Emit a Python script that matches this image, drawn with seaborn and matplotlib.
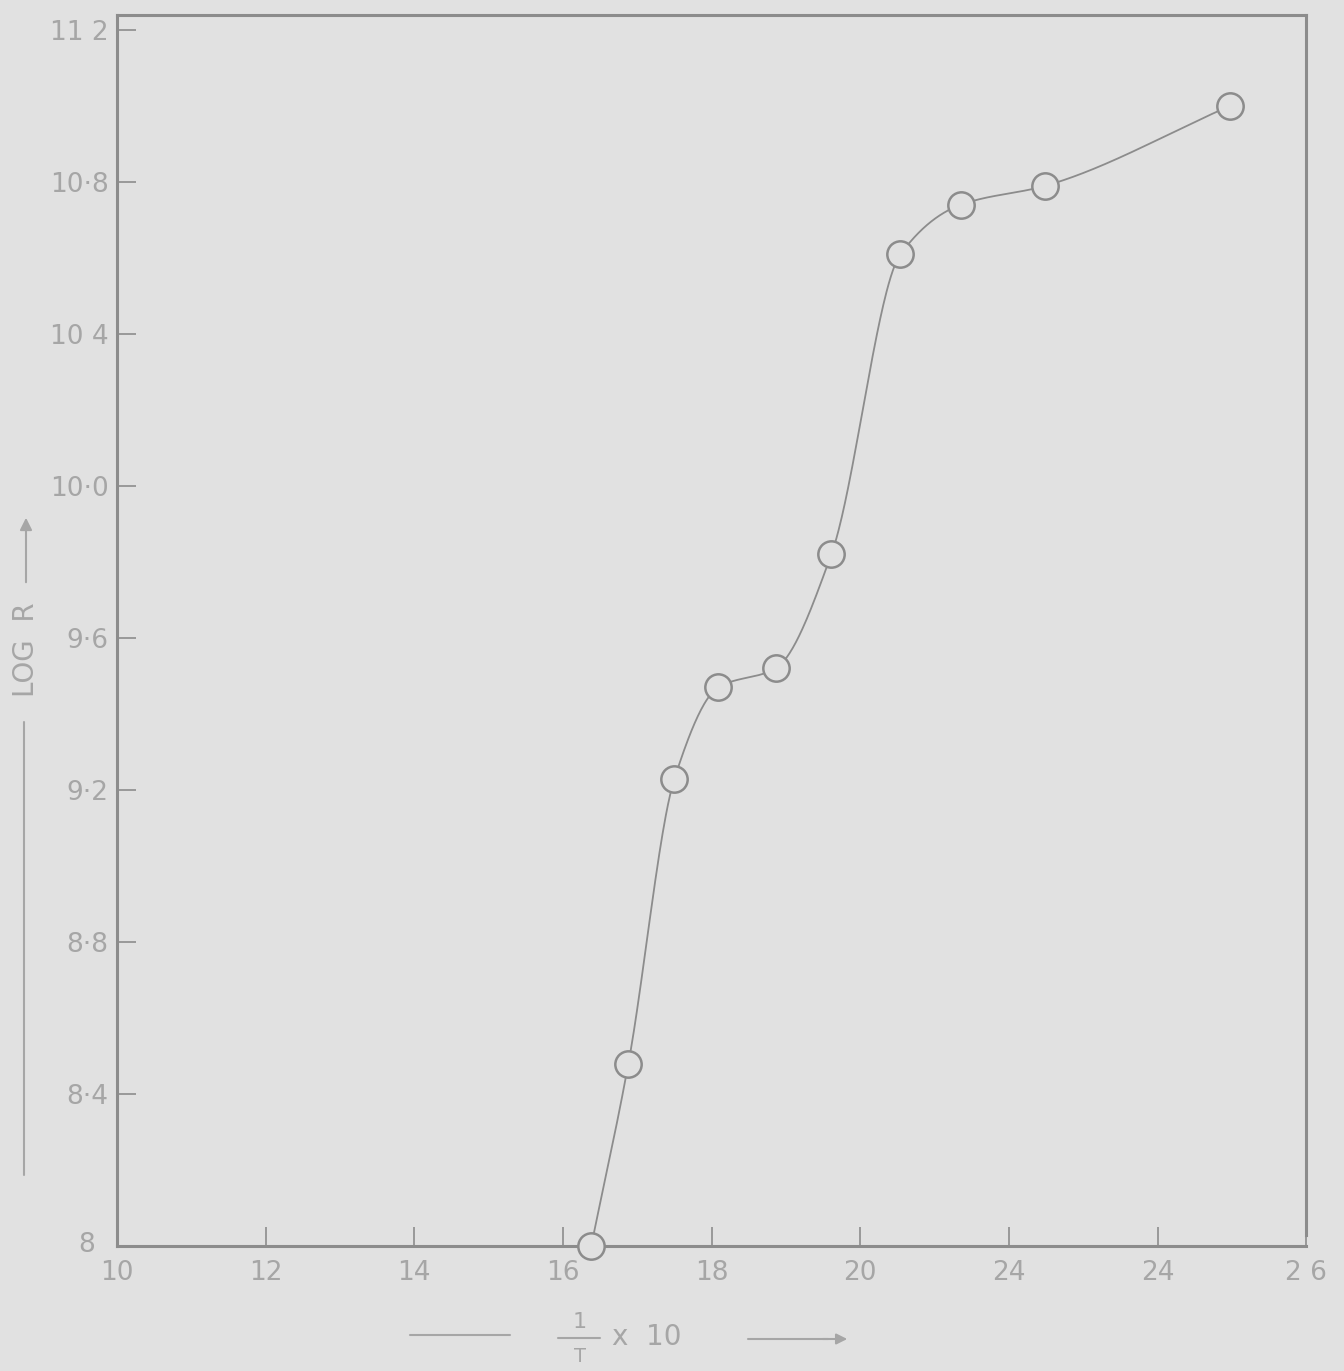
import numpy as np
import pandas as pd
import matplotlib
matplotlib.use("Agg")
import matplotlib.pyplot as plt
import matplotlib.transforms as mtransforms
import seaborn as sns

# ---- data ----
inv_T = [16.38, 16.88, 17.50, 18.09, 18.86, 19.61, 20.54, 21.35, 22.49, 24.97]
log_R = [8.00, 8.48, 9.23, 9.47, 9.52, 9.82, 10.61, 10.74, 10.79, 11.00]

x_ticks = [10, 12, 14, 16, 18, 20, 22, 24, 26]
x_tick_labels = ["10", "12", "14", "16", "18", "20", "24", "24", "2 6"]
y_ticks = [8.0, 8.4, 8.8, 9.2, 9.6, 10.0, 10.4, 10.8, 11.2]
y_tick_labels = ["8", "8·4", "8·8", "9·2", "9·6", "10·0", "10 4", "10·8", "11 2"]

BG = "#e1e1e1"
INK = "#8c8c8c"
TXT = "#a6a6a6"

sns.set_theme(style="white")
plt.rcParams["font.family"] = ["DejaVu Sans"]


def pchip(x, y, xs):
    x = np.asarray(x, float); y = np.asarray(y, float)
    h = np.diff(x); d = np.diff(y) / h
    n = len(x); m = np.zeros(n)
    for k in range(1, n - 1):
        if d[k - 1] * d[k] > 0:
            w1 = 2 * h[k] + h[k - 1]; w2 = h[k] + 2 * h[k - 1]
            m[k] = (w1 + w2) / (w1 / d[k - 1] + w2 / d[k])
    m[0] = d[0]; m[-1] = d[-1]
    idx = np.clip(np.searchsorted(x, xs) - 1, 0, n - 2)
    t = (xs - x[idx]) / h[idx]
    h00 = 2 * t**3 - 3 * t**2 + 1; h10 = t**3 - 2 * t**2 + t
    h01 = -2 * t**3 + 3 * t**2; h11 = t**3 - t**2
    return h00 * y[idx] + h10 * h[idx] * m[idx] + h01 * y[idx + 1] + h11 * h[idx] * m[idx + 1]


df = pd.DataFrame({"inv_T": inv_T, "log_R": log_R})
xs = np.linspace(min(inv_T), max(inv_T), 600)
curve = pd.DataFrame({"inv_T": xs, "log_R": pchip(inv_T, log_R, xs)})

fig = plt.figure(figsize=(13.44, 13.71), dpi=100, facecolor=BG)
ax = fig.add_axes([0.087, 0.0912, 0.885, 0.898])
ax.set_facecolor(BG)

sns.lineplot(data=curve, x="inv_T", y="log_R", ax=ax, color=INK, lw=1.3, zorder=2)
sns.scatterplot(data=df, x="inv_T", y="log_R", ax=ax, s=360, marker="o",
                facecolor=BG, edgecolor=INK, linewidth=1.8, zorder=3, clip_on=False)

ax.set_xlim(10, 26)
ax.set_ylim(8.0, 11.24)
ax.set_xticks(x_ticks)
ax.set_xticklabels(x_tick_labels)
ax.set_yticks(y_ticks)
ax.set_yticklabels(y_tick_labels)
ax.tick_params(axis="x", direction="in", length=14, width=1.2, color=INK,
               labelsize=19, labelcolor=TXT, pad=10, bottom=True)
ax.tick_params(axis="y", direction="in", length=14, width=1.2, color=INK,
               labelsize=19, labelcolor=TXT, pad=6, left=True)
ax.set_xlabel(""); ax.set_ylabel("")
for s in ax.spines.values():
    s.set_color(INK); s.set_linewidth(2.2)
ax.spines["right"].set_bounds(8.03, 11.24)

# move the "8" label left/up so it clears the "10" below it
first = ax.get_yticklabels()[0]
first.set_transform(first.get_transform() +
                    mtransforms.ScaledTranslation(-14 / 100, 4 / 100, fig.dpi_scale_trans))

# x label: —— 1/T x 10 ——>
fig.add_artist(plt.Line2D([410 / 1344, 510 / 1344], [1 - 1335 / 1371] * 2, color=TXT, lw=1.5))
fig.text(580 / 1344, 1 - 1322 / 1371, "1", color=TXT, fontsize=16, ha="center", va="center")
fig.add_artist(plt.Line2D([558 / 1344, 600 / 1344], [1 - 1338 / 1371] * 2, color=TXT, lw=1.5))
fig.text(580 / 1344, 1 - 1356 / 1371, "T", color=TXT, fontsize=14, ha="center", va="center")
fig.text(612 / 1344, 1 - 1337 / 1371, "x  10", color=TXT, fontsize=20, ha="left", va="center")
fig.add_artist(plt.Line2D([748 / 1344, 828 / 1344], [1 - 1339 / 1371] * 2, color=TXT, lw=1.5))
ax.annotate("", xy=(850 / 1344, 1 - 1339 / 1371), xytext=(820 / 1344, 1 - 1339 / 1371),
            xycoords="figure fraction",
            arrowprops=dict(arrowstyle="-|>", color=TXT, lw=1.5, mutation_scale=16))

# y label: —— LOG R ——>
fig.add_artist(plt.Line2D([24 / 1344] * 2, [1 - 1175 / 1371, 1 - 722 / 1371], color=TXT, lw=1.5))
fig.text(26 / 1344, 1 - 650 / 1371, "LOG  R", color=TXT, fontsize=20, rotation=90,
         ha="center", va="center")
ax.annotate("", xy=(26 / 1344, 1 - 515 / 1371), xytext=(26 / 1344, 1 - 585 / 1371),
            xycoords="figure fraction",
            arrowprops=dict(arrowstyle="-|>", color=TXT, lw=1.5, mutation_scale=18))

fig.savefig("out.png", dpi=100, facecolor=BG)
